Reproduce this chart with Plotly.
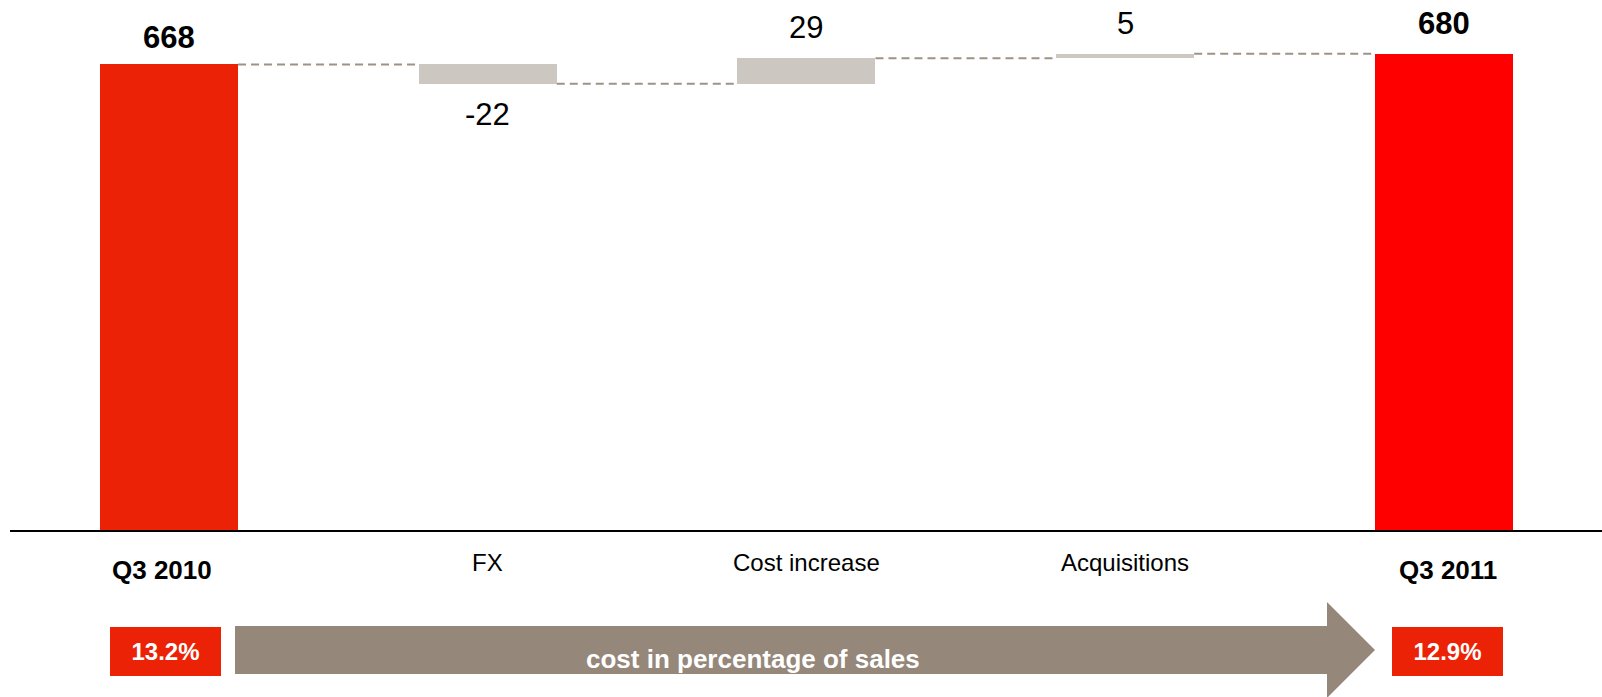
import plotly.graph_objects as go

# Bridge of cost from Q3 2010 to Q3 2011
categories = ["Q3 2010", "FX", "Cost increase", "Acquisitions", "Q3 2011"]
values = [668, -22, 29, 5, 680]
measures = ["absolute", "relative", "relative", "relative", "total"]
cost_pct = ["13.2%", "12.9%"]
arrow_text = "cost in percentage of sales"

FONT = "Liberation Sans, Arial, sans-serif"
C_START = "#EB2205"
C_END = "#FF0000"
C_STEP = "#CCC7C1"
C_ARROW = "#958779"
C_CONN = "#9E9287"

W, H = 1602, 697
M_L, M_R, M_T, M_B = 10, 0, 0, 167
BAR_W = 0.433

# running totals -> base and height of every bar
bases, heights, levels = [], [], []
running = 0
for v, m in zip(values, measures):
    if m == "relative":
        bases.append(running)
        heights.append(v)
        running += v
    else:
        bases.append(0)
        heights.append(v)
        running = v
    levels.append(running)

colors = []
for i, m in enumerate(measures):
    if m == "absolute":
        colors.append(C_START)
    elif m == "total":
        colors.append(C_END)
    else:
        colors.append(C_STEP)

xs = list(range(len(categories)))

fig = go.Figure()
fig.add_trace(go.Bar(
    x=xs, y=heights, base=bases, width=BAR_W,
    marker=dict(color=colors, line=dict(width=0)),
    hoverinfo="skip", showlegend=False,
))

# dashed connectors between consecutive bars at the running level
for i in range(len(xs) - 1):
    fig.add_trace(go.Scatter(
        x=[xs[i] + BAR_W / 2, xs[i + 1] - BAR_W / 2],
        y=[levels[i], levels[i]],
        mode="lines",
        line=dict(color=C_CONN, width=2, dash="8px,5px"),
        hoverinfo="skip", showlegend=False,
    ))

annotations = []
# value labels
label_gap = [7, 0, 11, 11, 11]
for i, (v, m) in enumerate(zip(values, measures)):
    bold = m != "relative"
    txt = f"<b>{v}</b>" if bold else f"{v}"
    y = bases[i] + heights[i]
    if v >= 0:
        annotations.append(dict(x=xs[i], y=y, xref="x", yref="y", text=txt,
                                showarrow=False, yanchor="bottom",
                                yshift=label_gap[i],
                                font=dict(family=FONT, size=31, color="#000000")))
    else:
        annotations.append(dict(x=xs[i], y=y, xref="x", yref="y", text=txt,
                                showarrow=False, yanchor="top", yshift=-11,
                                font=dict(family=FONT, size=31, color="#000000")))

# category labels under the axis
for i, (c, m) in enumerate(zip(categories, measures)):
    if m == "relative":
        annotations.append(dict(x=xs[i], y=0, xref="x", yref="paper", text=c,
                                showarrow=False, yanchor="top", yshift=-17,
                                font=dict(family=FONT, size=24, color="#000000")))
    else:
        xsh = -7 if m == "absolute" else 4
        annotations.append(dict(x=xs[i], y=0, xref="x", yref="paper",
                                text=f"<b>{c}</b>", showarrow=False,
                                yanchor="top", yshift=-23, xshift=xsh,
                                font=dict(family=FONT, size=26, color="#000000")))

# cost ratio boxes
for x, txt, xsh in [(xs[0], cost_pct[0], -4), (xs[-1], cost_pct[1], 4)]:
    annotations.append(dict(x=x, y=0, xref="x", yref="paper",
                            text=f"<b>{txt}</b>", showarrow=False,
                            xanchor="center", yanchor="middle",
                            xshift=xsh, yshift=-121.5,
                            width=111, height=49, borderpad=0, borderwidth=0,
                            bgcolor=C_START,
                            font=dict(family=FONT, size=24, color="#FFFFFF")))

plot_w = W - M_L - M_R
plot_h = H - M_T - M_B


def px(xp):
    return (xp - M_L) / plot_w


def py(yp):
    return (plot_h - (yp - M_T)) / plot_h


# block arrow behind the caption
pts = [(235, 626), (1327, 626), (1327, 602), (1375, 650),
       (1327, 698), (1327, 674), (235, 674)]
path = "M " + " L ".join(f"{px(a):.5f},{py(b):.5f}" for a, b in pts) + " Z"
shapes = [dict(type="path", path=path, xref="paper", yref="paper",
               fillcolor=C_ARROW, line=dict(width=0), layer="below")]

annotations.append(dict(x=px(753), y=py(659), xref="paper", yref="paper",
                        text=f"<b>{arrow_text}</b>", showarrow=False,
                        xanchor="center", yanchor="middle",
                        font=dict(family=FONT, size=26, color="#FFFFFF")))

fig.update_layout(
    width=W, height=H,
    margin=dict(l=M_L, r=M_R, t=M_T, b=M_B, pad=0),
    paper_bgcolor="#FFFFFF", plot_bgcolor="#FFFFFF",
    bargap=0,
    xaxis=dict(range=[-0.499, 4.496], showticklabels=False, ticks="",
               showgrid=False, zeroline=False, showline=True,
               linecolor="#000000", linewidth=2, fixedrange=True),
    yaxis=dict(range=[140, 741], showticklabels=False, ticks="",
               showgrid=False, zeroline=False, showline=False,
               fixedrange=True),
    annotations=annotations,
    shapes=shapes,
    showlegend=False,
)

fig.write_html("out.html", config={"displayModeBar": False})
